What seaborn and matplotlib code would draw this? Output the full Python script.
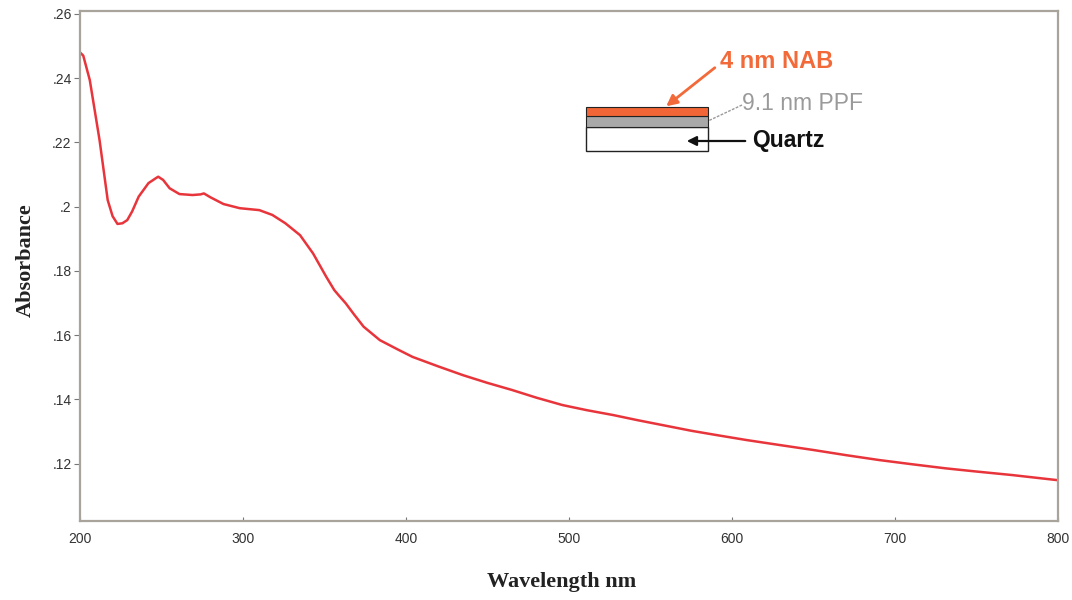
import matplotlib
matplotlib.use("Agg")
import matplotlib.pyplot as plt
import seaborn as sns
import pandas as pd
from matplotlib.patches import Rectangle, FancyArrowPatch
from matplotlib.lines import Line2D

wavelength = [200, 202, 206, 212, 217, 220, 223, 226, 229, 232, 236, 242, 247, 248, 251, 255,
              261, 269, 274, 276, 280, 288, 298, 310, 318, 326, 335, 343, 351, 356, 359, 363,
              368, 374, 384, 395, 404, 420, 435, 450, 465, 480, 496, 511, 527, 542, 557,
              575, 590, 609, 630, 650, 670, 690, 710, 731, 750, 772, 786, 800]
absorbance = [0.2480, 0.2470, 0.2394, 0.2207, 0.2020, 0.1970, 0.1946, 0.1948, 0.1958, 0.1985,
              0.2031, 0.2073, 0.2090, 0.2093, 0.2083, 0.2057, 0.2039, 0.2036, 0.2038, 0.2041,
              0.2029, 0.2008, 0.1995, 0.1989, 0.1974, 0.1948, 0.1911, 0.1854, 0.1782, 0.1740,
              0.1722, 0.1699, 0.1665, 0.1626, 0.1584, 0.1555, 0.1532, 0.1502, 0.1475, 0.1451,
              0.1429, 0.1405, 0.1382, 0.1366, 0.1351, 0.1335, 0.1320, 0.1302, 0.1289, 0.1273,
              0.1257, 0.1242, 0.1226, 0.1211, 0.1198, 0.1185, 0.1175, 0.1164, 0.1156, 0.1148]

x_ticks = [200, 300, 400, 500, 600, 700, 800]
y_ticks = [0.12, 0.14, 0.16, 0.18, 0.20, 0.22, 0.24, 0.26]
y_tick_labels = [".12", ".14", ".16", ".18", ".2", ".22", ".24", ".26"]

sns.set_theme(style="white")
plt.rcParams['font.family'] = ['Liberation Sans Narrow', 'Liberation Sans', 'DejaVu Sans']

df = pd.DataFrame({"Wavelength": wavelength, "Absorbance": absorbance})

fig = plt.figure(figsize=(10.72, 6.0), dpi=100)
ax = fig.add_axes([80 / 1072, 1 - 521 / 600, (1058 - 80) / 1072, (521 - 11) / 600])

sns.lineplot(data=df, x="Wavelength", y="Absorbance", ax=ax, color="#e8353b",
             linewidth=1.8, estimator=None, sort=False)

ax.set_xlim(200, 800)
ax.set_ylim(0.1021, 0.2609)
ax.set_xticks(x_ticks)
ax.set_xticklabels([str(v) for v in x_ticks])
ax.set_yticks(y_ticks)
ax.set_yticklabels(y_tick_labels)

for s in ax.spines.values():
    s.set_color("#a8a39b")
    s.set_linewidth(1.6)
    s.set_visible(True)

ax.tick_params(axis="y", direction="out", length=4, width=0.8, color="#777777",
               labelsize=10, labelcolor="#333333", pad=2, left=True)
ax.tick_params(axis="x", direction="in", length=3, width=0.8, color="#777777",
               labelsize=10, labelcolor="#333333", pad=8, bottom=True)

ax.set_xlabel("")
ax.set_ylabel("")
fig.text(562 / 1072, 1 - 582 / 600, "Wavelength nm", ha="center", va="center",
         fontsize=16, fontweight="bold", family=["Liberation Serif", "DejaVu Serif"],
         color="#222222")
fig.text(26 / 1072, 1 - 260 / 600, "Absorbance", ha="center", va="center", rotation=90,
         fontsize=16, fontweight="bold", family=["Liberation Serif", "DejaVu Serif"],
         color="#222222")

# Inset schematic of the layered sample (figure pixel coordinates)
def fx(px):
    return px / 1072

def fy(py):
    return 1 - py / 600

fig.patches.append(Rectangle((fx(586), fy(151)), fx(708) - fx(586), fy(127) - fy(151),
                             transform=fig.transFigure, facecolor="white",
                             edgecolor="#222222", linewidth=1.0, zorder=5))
fig.patches.append(Rectangle((fx(586), fy(127)), fx(708) - fx(586), fy(116) - fy(127),
                             transform=fig.transFigure, facecolor="#a8a8a8",
                             edgecolor="#222222", linewidth=0.8, zorder=5))
fig.patches.append(Rectangle((fx(586), fy(116)), fx(708) - fx(586), fy(107) - fy(116),
                             transform=fig.transFigure, facecolor="#f26536",
                             edgecolor="#222222", linewidth=0.8, zorder=5))

fig.text(fx(720), fy(62), "4 nm NAB", ha="left", va="center", fontsize=17,
         fontweight="bold", color="#f26a3a", family=["Liberation Sans", "DejaVu Sans"])
fig.text(fx(742), fy(104), "9.1 nm PPF", ha="left", va="center", fontsize=16.5,
         color="#9a9a9a", family=["Liberation Sans", "DejaVu Sans"])
fig.text(fx(752), fy(141), "Quartz", ha="left", va="center", fontsize=16.5,
         fontweight="bold", color="#111111", family=["Liberation Sans", "DejaVu Sans"])

fig.patches.append(FancyArrowPatch((fx(717), fy(66)), (fx(664), fy(108)),
                                   transform=fig.transFigure, arrowstyle="-|>",
                                   mutation_scale=16, color="#f26a3a", linewidth=2.0,
                                   zorder=6))
fig.patches.append(FancyArrowPatch((fx(748), fy(141)), (fx(684), fy(141)),
                                   transform=fig.transFigure, arrowstyle="-|>",
                                   mutation_scale=14, color="#111111", linewidth=1.6,
                                   zorder=6))
fig.lines.append(Line2D([fx(742), fx(708)], [fy(105), fy(121)], transform=fig.transFigure,
                        color="#9a9a9a", linewidth=1.0, linestyle=(0, (2, 1)), zorder=6))

fig.savefig("out.png", dpi=100, facecolor="white")
